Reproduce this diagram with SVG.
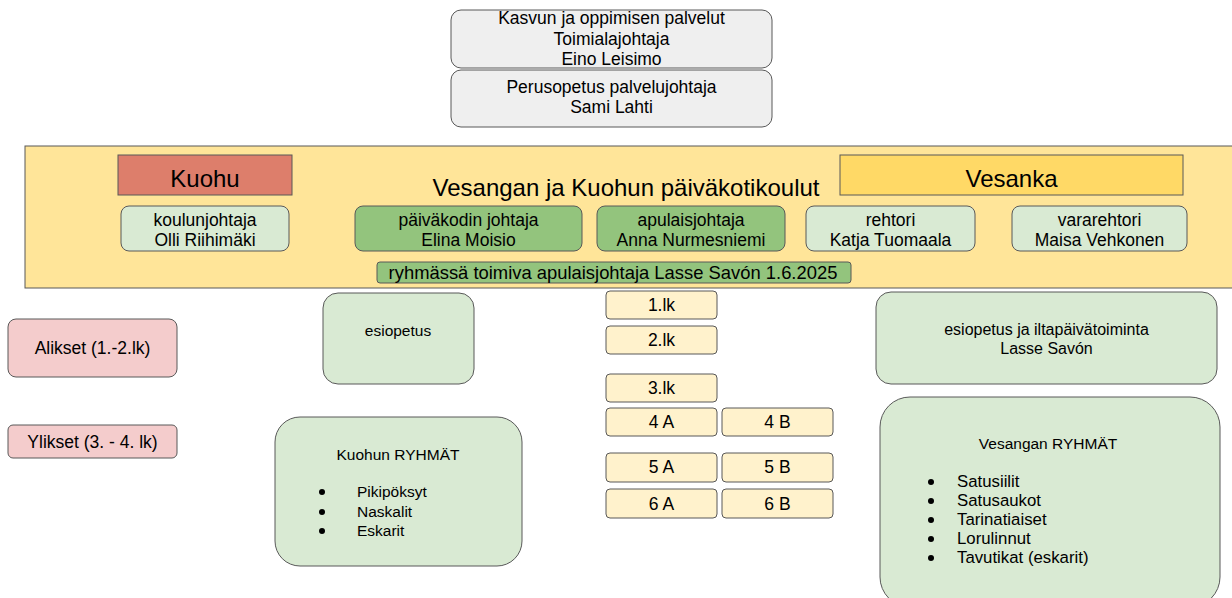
<svg xmlns="http://www.w3.org/2000/svg" width="1232" height="598" viewBox="0 0 1232 598">
<style>
  .b { stroke:#595959; stroke-width:1; }
  .gray { fill:#efefef; }
  .yel { fill:#ffe599; }
  .red { fill:#dd7e6b; }
  .gold { fill:#ffd966; }
  .lg { fill:#d9ead3; }
  .dg { fill:#93c47d; }
  .pink { fill:#f4cccc; }
  .cream { fill:#fff2cc; }
  text { font-family:"Liberation Sans", Arial, sans-serif; fill:#000; text-anchor:middle; }
  .t17 { font-size:17.5px; }
  .t24 { font-size:24px; }
  .t15 { font-size:15.5px; }
  .t16 { font-size:16px; }
  .tv { font-size:16.8px; }
  .l { text-anchor:start; }
</style>
<rect width="1232" height="598" fill="#ffffff"/>

<g id="toimialajohtaja">
  <rect class="b gray" x="451" y="10" width="321" height="58" rx="10"/>
  <text class="t17" x="611.5" y="23.5">Kasvun ja oppimisen palvelut</text>
  <text class="t17" x="611.5" y="44.5">Toimialajohtaja</text>
  <text class="t17" x="611.5" y="65">Eino Leisimo</text>
</g>
<g id="palvelujohtaja">
  <rect class="b gray" x="451" y="70" width="321" height="57" rx="10"/>
  <text class="t17" x="611.5" y="93">Perusopetus palvelujohtaja</text>
  <text class="t17" x="611.5" y="112.5">Sami Lahti</text>
</g>

<g id="paivakotikoulut">
  <rect class="b yel" x="25" y="146" width="1220" height="142"/>
  <text class="t24" x="626" y="196">Vesangan ja Kuohun päiväkotikoulut</text>
</g>
<g id="kuohu">
  <rect class="b red" x="118" y="155" width="174" height="40"/>
  <text class="t24" x="205" y="187">Kuohu</text>
</g>
<g id="vesanka">
  <rect class="b gold" x="840" y="155" width="343" height="40"/>
  <text class="t24" x="1011.5" y="187">Vesanka</text>
</g>
<g id="koulunjohtaja">
  <rect class="b lg" x="121" y="206" width="168" height="45" rx="8"/>
  <text class="t17" x="205" y="226">koulunjohtaja</text>
  <text class="t17" x="205" y="246">Olli Riihimäki</text>
</g>
<g id="paivakodin-johtaja">
  <rect class="b dg" x="355" y="206" width="227" height="45" rx="8"/>
  <text class="t17" x="468.5" y="226">päiväkodin johtaja</text>
  <text class="t17" x="468.5" y="246">Elina Moisio</text>
</g>
<g id="apulaisjohtaja">
  <rect class="b dg" x="597" y="206" width="188" height="45" rx="8"/>
  <text class="t17" x="691" y="226">apulaisjohtaja</text>
  <text class="t17" x="691" y="246">Anna Nurmesniemi</text>
</g>
<g id="rehtori">
  <rect class="b lg" x="806" y="206" width="169" height="45" rx="8"/>
  <text class="t17" x="890.5" y="226">rehtori</text>
  <text class="t17" x="890.5" y="246">Katja Tuomaala</text>
</g>
<g id="vararehtori">
  <rect class="b lg" x="1012" y="206" width="175" height="45" rx="8"/>
  <text class="t17" x="1099.5" y="226">vararehtori</text>
  <text class="t17" x="1099.5" y="246">Maisa Vehkonen</text>
</g>
<g id="ryhmassa-apulaisjohtaja">
  <rect class="b dg" x="377" y="262" width="474" height="21" rx="3"/>
  <text x="613" y="279" style="font-size:18.4px">ryhmässä toimiva apulaisjohtaja Lasse Savón 1.6.2025</text>
</g>

<g id="alikset">
  <rect class="b pink" x="8" y="319" width="169" height="58" rx="8"/>
  <text class="t17" x="92.5" y="354">Alikset (1.-2.lk)</text>
</g>
<g id="ylikset">
  <rect class="b pink" x="8" y="425" width="169" height="33" rx="5"/>
  <text class="t17" x="92.5" y="448">Ylikset (3. - 4. lk)</text>
</g>

<g id="kuohu-esiopetus">
  <rect class="b lg" x="323" y="293" width="151" height="91" rx="15"/>
  <text class="t15" x="398" y="336">esiopetus</text>
</g>
<g id="kuohun-ryhmat">
  <rect class="b lg" x="275" y="417" width="247" height="149" rx="25"/>
  <text class="t15" x="398" y="460">Kuohun RYHMÄT</text>
  <circle cx="322" cy="492" r="3" fill="#000"/>
  <circle cx="322" cy="512" r="3" fill="#000"/>
  <circle cx="322" cy="531" r="3" fill="#000"/>
  <text class="t15 l" x="357" y="497">Pikipöksyt</text>
  <text class="t15 l" x="357" y="517">Naskalit</text>
  <text class="t15 l" x="357" y="536">Eskarit</text>
</g>

<g id="lk1"><rect class="b cream" x="606" y="291" width="111" height="28" rx="4"/><text class="t17" x="661.5" y="311">1.lk</text></g>
<g id="lk2"><rect class="b cream" x="606" y="326" width="111" height="28" rx="4"/><text class="t17" x="661.5" y="346">2.lk</text></g>
<g id="lk3"><rect class="b cream" x="606" y="374" width="111" height="28" rx="4"/><text class="t17" x="661.5" y="394">3.lk</text></g>
<g id="lk4a"><rect class="b cream" x="606" y="408" width="111" height="28" rx="4"/><text class="t17" x="661.5" y="428">4 A</text></g>
<g id="lk4b"><rect class="b cream" x="722" y="408" width="111" height="28" rx="4"/><text class="t17" x="777.5" y="428">4 B</text></g>
<g id="lk5a"><rect class="b cream" x="606" y="453" width="111" height="29" rx="4"/><text class="t17" x="661.5" y="473">5 A</text></g>
<g id="lk5b"><rect class="b cream" x="722" y="453" width="111" height="29" rx="4"/><text class="t17" x="777.5" y="473">5 B</text></g>
<g id="lk6a"><rect class="b cream" x="606" y="489" width="111" height="29" rx="4"/><text class="t17" x="661.5" y="510">6 A</text></g>
<g id="lk6b"><rect class="b cream" x="722" y="489" width="111" height="29" rx="4"/><text class="t17" x="777.5" y="510">6 B</text></g>

<g id="vesanka-esiopetus">
  <rect class="b lg" x="876" y="292" width="341" height="92" rx="15"/>
  <text class="t16" x="1046.5" y="335">esiopetus ja iltapäivätoiminta</text>
  <text class="t16" x="1046.5" y="354">Lasse Savón</text>
</g>
<g id="vesangan-ryhmat">
  <rect class="b lg" x="880" y="397" width="340" height="210" rx="30"/>
  <text class="t15" x="1048" y="449">Vesangan RYHMÄT</text>
  <circle cx="931" cy="482" r="3" fill="#000"/>
  <circle cx="931" cy="501" r="3" fill="#000"/>
  <circle cx="931" cy="520" r="3" fill="#000"/>
  <circle cx="931" cy="539" r="3" fill="#000"/>
  <circle cx="931" cy="558" r="3" fill="#000"/>
  <text class="tv l" x="957" y="487">Satusiilit</text>
  <text class="tv l" x="957" y="506">Satusaukot</text>
  <text class="tv l" x="957" y="525">Tarinatiaiset</text>
  <text class="tv l" x="957" y="544">Lorulinnut</text>
  <text class="tv l" x="957" y="563">Tavutikat (eskarit)</text>
</g>

<g id="connectors"></g>
</svg>
